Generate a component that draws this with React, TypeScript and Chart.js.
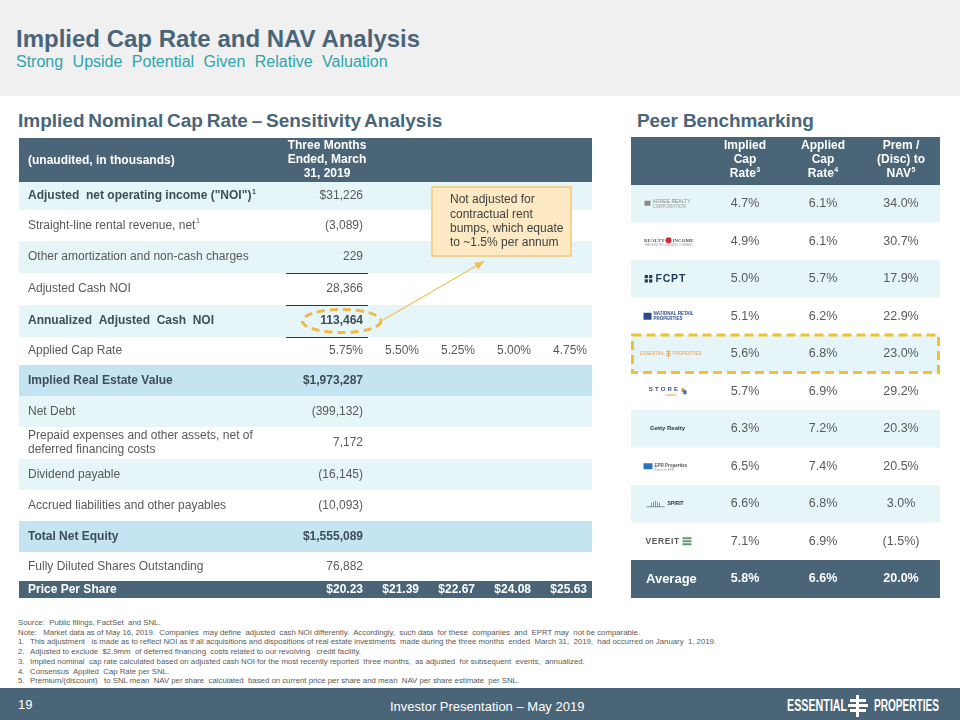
import React, { useEffect, useRef } from "react";
import { Chart, registerables } from "chart.js";

Chart.register(...registerables);

// ---------------- data ----------------
const sensColumnTitle = ["Three Months", "Ended, March", "31, 2019"];
const sensRowLabels = [
  'Adjusted  net operating income ("NOI")',
  "Straight-line rental revenue, net",
  "Other amortization and non-cash charges",
  "Adjusted Cash NOI",
  "Annualized  Adjusted  Cash  NOI",
  "Applied Cap Rate",
  "Implied Real Estate Value",
  "Net Debt",
  "Prepaid expenses and other assets, net of\ndeferred financing costs",
  "Dividend payable",
  "Accrued liabilities and other payables",
  "Total Net Equity",
  "Fully Diluted Shares Outstanding",
  "Price Per Share",
];
const sensRowNotes = ["1", "1", "", "", "", "", "", "", "", "", "", "", "", ""];
const sensBaseValues = [
  "$31,226", "(3,089)", "229", "28,366", "113,464", "5.75%", "$1,973,287",
  "(399,132)", "7,172", "(16,145)", "(10,093)", "$1,555,089", "76,882", "$20.23",
];
const sensAltCapRates = ["5.50%", "5.25%", "5.00%", "4.75%"];
const sensAltPrices = ["$21.39", "$22.67", "$24.08", "$25.63"];
const calloutLines = ["Not adjusted for", "contractual rent", "bumps, which equate", "to ~1.5% per annum"];

const peerNames = [
  "Agree Realty", "Realty Income", "FCPT", "National Retail Properties", "Essential Properties",
  "STORE Capital", "Getty Realty", "EPR Properties", "Spirit Realty", "VEREIT",
];
const peerImpliedCap = [4.7, 4.9, 5.0, 5.1, 5.6, 5.7, 6.3, 6.5, 6.6, 7.1];
const peerAppliedCap = [6.1, 6.1, 5.7, 6.2, 6.8, 6.9, 7.2, 7.4, 6.8, 6.9];
const peerPremDisc = [34.0, 30.7, 17.9, 22.9, 23.0, 29.2, 20.3, 20.5, 3.0, -1.5];
const peerAverage = [5.8, 6.6, 20.0];
const peerColumnTitles = [["Implied", "Cap", "Rate"], ["Applied", "Cap", "Rate"], ["Prem /", "(Disc) to", "NAV"]];
const peerColumnNotes = ["3", "4", "5"];

const footnotes = [
  ["", "Source:  Public filings, FactSet  and SNL."],
  ["", "Note:   Market data as of May 16, 2019.  Companies  may define  adjusted  cash NOI differently.  Accordingly,  such data  for these  companies  and  EPRT may  not be comparable."],
  ["1.", "This adjustment   is made as to reflect NOI as if all acquisitions and dispositions of real estate investments  made during the three months  ended  March 31,  2019,  had occurred on January  1, 2019."],
  ["2.", "Adjusted to exclude  $2.9mm  of deferred financing  costs related to our revolving   credit facility."],
  ["3.", "Implied nominal  cap rate calculated based on adjusted cash NOI for the most recently reported  three months,  as adjusted  for subsequent  events,  annualized."],
  ["4.", "Consensus  Applied  Cap Rate per SNL."],
  ["5.", "Premium/(discount)   to SNL mean  NAV per share  calculated  based on current price per share and mean  NAV per share estimate  per SNL."],
];

// ---------------- styles / layout ----------------
const FONT = "'Liberation Sans', Arial, Helvetica, sans-serif";
const SLATE = "#4a6577";
const TEAL_ROW = "#e6f5f7";
const BLUE_ROW = "#c4e4f2";
const TEXT = "#595959";
const TEXT_BOLD = "#3e4d57";

const sensColUnits = [267, 82, 56, 56, 56, 56];
const sensRowUnits = [44, 28, 31, 32, 32, 32, 28, 31, 31, 32, 31, 31, 31, 29, 17];
const sensRowKinds = ["tealB", "white", "teal", "white", "tealB", "white", "blueB", "teal", "white", "teal", "white", "blueB", "white", "dark"];
const sensValueBold = [false, false, false, false, true, false, true, false, false, false, false, true, false, true];
const sensCapRow = 5;
const sensPriceRow = 13;
const sensRuleRows = [3, 4, 5];
const sensCircleRow = 4;

const peerColUnits = [75, 78, 78, 78];
const peerRowUnits = [48, 37.5, 37.5, 37.5, 37.5, 37.5, 37.5, 37.5, 37.5, 37.5, 37.5, 38];
const peerHighlight = 4;

type Rect = { x0: number; x1: number; y0: number; y1: number };
type CellFn = (c0: number, r: number, c1?: number) => Rect;

const cum = (a: number[]) => a.reduce((acc, v) => { acc.push(acc[acc.length - 1] + v); return acc; }, [0] as number[]);
const mid = (r: Rect) => (r.y0 + r.y1) / 2;
const cx = (r: Rect) => (r.x0 + r.x1) / 2;
const fill = (ctx: CanvasRenderingContext2D, r: Rect, color: string) => {
  ctx.fillStyle = color;
  ctx.fillRect(r.x0, r.y0, r.x1 - r.x0, r.y1 - r.y0);
};
const txt = (ctx: CanvasRenderingContext2D, s: string, x: number, y: number, font: string, color: string, align: CanvasTextAlign = "left", ls = 0) => {
  ctx.font = font;
  (ctx as any).letterSpacing = ls + "px";
  ctx.fillStyle = color;
  ctx.textAlign = align;
  ctx.textBaseline = "middle";
  ctx.fillText(s, x, y);
  (ctx as any).letterSpacing = "0px";
};
const withSup = (ctx: CanvasRenderingContext2D, s: string, sup: string, x: number, y: number, size: number, bold: boolean, color: string, align: "left" | "center" | "right") => {
  const f = `${bold ? "bold " : ""}${size}px ${FONT}`;
  const sf = `${bold ? "bold " : ""}${Math.round(size * 0.6)}px ${FONT}`;
  ctx.font = f;
  const w = ctx.measureText(s).width;
  ctx.font = sf;
  const sw = sup ? ctx.measureText(sup).width + 0.5 : 0;
  const start = align === "center" ? x - (w + sw) / 2 : align === "right" ? x - w - sw : x;
  txt(ctx, s, start, y, f, color);
  if (sup) txt(ctx, sup, start + w + 0.5, y - size * 0.35, sf, color);
};

const fmtPct = (v: number) => (v < 0 ? `(${Math.abs(v).toFixed(1)}%)` : `${v.toFixed(1)}%`);

// ---------------- table drawers ----------------
function drawSensitivity(ctx: CanvasRenderingContext2D, cell: CellFn) {
  const hdr = cell(0, 0, 5);
  fill(ctx, hdr, SLATE);
  txt(ctx, "(unaudited, in thousands)", hdr.x0 + 9, mid(hdr) + 1, `bold 12px ${FONT}`, "#fff");
  const h1 = cell(1, 0);
  sensColumnTitle.forEach((line, i) =>
    txt(ctx, line, cx(h1), mid(hdr) + (i - 1) * 14, `bold 12px ${FONT}`, "#fff", "center")
  );

  sensRowLabels.forEach((label, i) => {
    const r = i + 1;
    const kind = sensRowKinds[i];
    const row = cell(0, r, 5);
    if (kind.startsWith("teal")) fill(ctx, row, TEAL_ROW);
    if (kind.startsWith("blue")) fill(ctx, row, BLUE_ROW);
    if (kind === "dark") fill(ctx, row, SLATE);
    const bold = kind.endsWith("B") || kind === "dark";
    const color = kind === "dark" ? "#fff" : bold ? TEXT_BOLD : TEXT;
    const lines = label.split("\n");
    lines.forEach((ln, k) => {
      const y = mid(row) + (k - (lines.length - 1) / 2) * 14;
      withSup(ctx, ln, k === 0 ? sensRowNotes[i] : "", row.x0 + 9, y, 12, bold, color, "left");
    });
    const c1 = cell(1, r);
    const vb = sensValueBold[i];
    const vcolor = kind === "dark" ? "#fff" : vb ? TEXT_BOLD : TEXT;
    txt(ctx, sensBaseValues[i], c1.x1 - 5, mid(row), `${vb ? "bold " : ""}12px ${FONT}`, vcolor, "right");
    if (i === sensCapRow)
      sensAltCapRates.forEach((v, k) => {
        const c = cell(k + 2, r);
        txt(ctx, v, c.x1 - 5, mid(row), `12px ${FONT}`, vcolor, "right");
      });
    if (i === sensPriceRow)
      sensAltPrices.forEach((v, k) => {
        const c = cell(k + 2, r);
        txt(ctx, v, c.x1 - 5, mid(row), `bold 12px ${FONT}`, vcolor, "right");
      });
  });

  // subtotal rules
  ctx.strokeStyle = "#333";
  ctx.lineWidth = 1;
  sensRuleRows.forEach((i) => {
    const c = cell(1, i + 1);
    ctx.beginPath();
    ctx.moveTo(c.x0, Math.round(c.y0) + 0.5);
    ctx.lineTo(c.x1, Math.round(c.y0) + 0.5);
    ctx.stroke();
  });

  // callout box
  const b0 = cell(3, 1), b1 = cell(5, 3);
  const box = { x0: b0.x0 + 8, x1: b1.x1 - 21, y0: b0.y0 + 5, y1: b1.y1 - 17 };
  fill(ctx, box, "#fdeac5");
  ctx.strokeStyle = "#f3c878";
  ctx.lineWidth = 1.5;
  ctx.strokeRect(box.x0, box.y0, box.x1 - box.x0, box.y1 - box.y0);
  calloutLines.forEach((ln, k) =>
    txt(ctx, ln, box.x0 + 18, box.y0 + 13 + k * 14.3, `12px ${FONT}`, "#404040")
  );

  // dashed ellipse around annualized NOI
  const cr = cell(1, sensCircleRow + 1);
  ctx.font = `bold 12px ${FONT}`;
  const tw = ctx.measureText(sensBaseValues[sensCircleRow]).width;
  const ecx = cr.x1 - 5 - tw / 2;
  const ecy = mid(cr);
  const rx = tw / 2 + 18, ry = 11.5;
  ctx.save();
  ctx.strokeStyle = "#f0b94a";
  ctx.lineWidth = 3;
  ctx.setLineDash([8, 5]);
  ctx.beginPath();
  ctx.ellipse(ecx, ecy, rx, ry, 0, 0, Math.PI * 2);
  ctx.stroke();
  ctx.restore();

  // arrow
  const ax0 = ecx + rx + 2, ay0 = ecy - 1;
  const ax1 = box.x0 + 51, ay1 = box.y1 + 6;
  ctx.save();
  ctx.strokeStyle = "#f2c15c";
  ctx.fillStyle = "#f2c15c";
  ctx.lineWidth = 1.3;
  ctx.beginPath();
  ctx.moveTo(ax0, ay0);
  ctx.lineTo(ax1, ay1);
  ctx.stroke();
  const ang = Math.atan2(ay1 - ay0, ax1 - ax0);
  ctx.beginPath();
  ctx.moveTo(ax1 + Math.cos(ang) * 2, ay1 + Math.sin(ang) * 2);
  ctx.lineTo(ax1 - Math.cos(ang - 0.45) * 9, ay1 - Math.sin(ang - 0.45) * 9);
  ctx.lineTo(ax1 - Math.cos(ang + 0.45) * 9, ay1 - Math.sin(ang + 0.45) * 9);
  ctx.closePath();
  ctx.fill();
  ctx.restore();
}

function drawLogo(ctx: CanvasRenderingContext2D, i: number, x: number, y: number) {
  switch (i) {
    case 0:
      ctx.fillStyle = "#8a8a8a";
      ctx.fillRect(x - 24, y - 3, 6, 5);
      txt(ctx, "AGREE REALTY", x - 16, y - 2, `5px ${FONT}`, "#888");
      txt(ctx, "CORPORATION", x - 16, y + 3, `4.5px ${FONT}`, "#999");
      break;
    case 1:
      txt(ctx, "REALTY", x - 4, y - 1, `bold 5px serif`, "#555", "right");
      ctx.fillStyle = "#d42a30";
      ctx.beginPath(); ctx.arc(x, y - 1, 3, 0, Math.PI * 2); ctx.fill();
      txt(ctx, "INCOME", x + 4, y - 1, `bold 5px serif`, "#555", "left");
      txt(ctx, "THE MONTHLY DIVIDEND COMPANY", x, y + 4, `2.8px ${FONT}`, "#999", "center");
      break;
    case 2: {
      ctx.fillStyle = "#1f3a5a";
      const s = 3.2;
      [[-1, -1], [1, -1], [-1, 1], [1, 1]].forEach(([a, b]) => ctx.fillRect(x - 20 + a * 2.2 - s / 2, y + b * 2.2 - s / 2, s, s));
      txt(ctx, "FCPT", x - 13, y + 0.5, `bold 10.5px ${FONT}`, "#1f3a5a", "left", 0.8);
      break;
    }
    case 3:
      ctx.fillStyle = "#2a4d8a";
      ctx.fillRect(x - 25, y - 3.5, 8, 7);
      txt(ctx, "NATIONAL RETAIL", x - 15, y - 2, `bold 4.5px ${FONT}`, "#2a4d8a");
      txt(ctx, "PROPERTIES", x - 15, y + 2.5, `bold 4.5px ${FONT}`, "#2a4d8a");
      break;
    case 4:
      txt(ctx, "ESSENTIAL", x - 4, y, `4.5px ${FONT}`, "#e8a158", "right");
      ctx.fillStyle = "#e8a158";
      ctx.fillRect(x - 0.5, y - 3.5, 1, 7);
      [-2, 0, 2].forEach((d) => ctx.fillRect(x - 2.5, y + d - 0.4, 5, 0.8));
      txt(ctx, "PROPERTIES", x + 4, y, `4.5px ${FONT}`, "#e8a158", "left");
      break;
    case 5:
      txt(ctx, "STORE", x - 4, y - 1.5, `bold 6px ${FONT}`, "#2f4f8f", "center", 2.2);
      txt(ctx, "capital", x + 2, y + 3.5, `4px ${FONT}`, "#e38a3a", "center");
      ctx.fillStyle = "#e38a3a";
      ctx.fillRect(x + 13, y - 3, 3, 4);
      ctx.fillStyle = "#2f6fb0";
      ctx.fillRect(x + 15, y - 1, 3, 4);
      break;
    case 6:
      txt(ctx, "Getty Realty", x - 1, y, `bold 6px ${FONT}`, "#2c3a44", "center");
      break;
    case 7:
      ctx.fillStyle = "#2a76bd";
      ctx.fillRect(x - 25, y - 3, 9, 6);
      txt(ctx, "EPR Properties", x - 14, y - 0.5, `bold 4.5px ${FONT}`, "#555");
      txt(ctx, "Return to EPR", x - 14, y + 3.5, `3px ${FONT}`, "#999");
      break;
    case 8:
      ctx.strokeStyle = "#777";
      ctx.lineWidth = 0.8;
      for (let k = 0; k < 5; k++) {
        ctx.beginPath();
        ctx.moveTo(x - 17 + k * 2, y + 3);
        ctx.lineTo(x - 17 + k * 2, y - 3 + Math.abs(k - 2));
        ctx.stroke();
      }
      ctx.beginPath(); ctx.moveTo(x - 22, y + 3); ctx.lineTo(x - 4, y + 3); ctx.stroke();
      txt(ctx, "SPIRIT", x - 1, y, `bold 5px ${FONT}`, "#333");
      break;
    case 9:
      txt(ctx, "VEREIT", x - 23, y, `bold 8.5px ${FONT}`, "#5a5a5a", "left", 0.6);
      ctx.fillStyle = "#5d9a70";
      for (let k = 0; k < 3; k++) ctx.fillRect(x + 14, y - 4 + k * 3, 9, 2);
      break;
  }
}

function drawPeers(ctx: CanvasRenderingContext2D, cell: CellFn) {
  const hdr = cell(0, 0, 3);
  fill(ctx, hdr, SLATE);
  peerColumnTitles.forEach((lines, c) => {
    const cc = cell(c + 1, 0);
    lines.forEach((ln, k) =>
      withSup(ctx, ln, k === 2 ? peerColumnNotes[c] : "", cx(cc), mid(hdr) - 1 + (k - 1) * 14, 12, true, "#fff", "center")
    );
  });
  peerNames.forEach((_, i) => {
    const r = i + 1;
    const row = cell(0, r, 3);
    if (i % 2 === 0) fill(ctx, row, TEAL_ROW);
    drawLogo(ctx, i, cx(cell(0, r)), mid(row));
    [peerImpliedCap[i], peerAppliedCap[i], peerPremDisc[i]].forEach((v, c) =>
      txt(ctx, fmtPct(v), cx(cell(c + 1, r)), mid(row), `12.5px ${FONT}`, TEXT, "center")
    );
  });
  const ar = peerNames.length + 1;
  const avg = cell(0, ar, 3);
  fill(ctx, avg, SLATE);
  txt(ctx, "Average", avg.x0 + 15, mid(avg), `bold 13px ${FONT}`, "#fff");
  peerAverage.forEach((v, c) =>
    txt(ctx, fmtPct(v), cx(cell(c + 1, ar)), mid(avg), `bold 12.5px ${FONT}`, "#fff", "center")
  );
  const hl = cell(0, peerHighlight + 1, 3);
  ctx.save();
  ctx.strokeStyle = "#f0c22c";
  ctx.lineWidth = 3;
  ctx.setLineDash([9, 5]);
  ctx.strokeRect(hl.x0 + 1.5, hl.y0, hl.x1 - hl.x0 - 3, hl.y1 - hl.y0);
  ctx.restore();
}

// ---------------- chart-backed table ----------------
function TableChart(props: {
  left: number; top: number; colUnits: number[]; rowUnits: number[];
  draw: (ctx: CanvasRenderingContext2D, cell: CellFn) => void;
}) {
  const ref = useRef<HTMLCanvasElement>(null);
  const colEdges = cum(props.colUnits);
  const rowEdges = cum(props.rowUnits);
  const width = colEdges[colEdges.length - 1];
  const height = Math.round(rowEdges[rowEdges.length - 1]);
  useEffect(() => {
    const chart = new Chart(ref.current!, {
      type: "scatter",
      data: { datasets: [] },
      options: {
        animation: false,
        responsive: false,
        maintainAspectRatio: false,
        devicePixelRatio: 1,
        events: [],
        layout: { padding: 0 },
        plugins: { legend: { display: false }, tooltip: { enabled: false }, title: { display: false } },
        scales: {
          x: { type: "linear", min: 0, max: colEdges[colEdges.length - 1], display: false },
          y: { type: "linear", min: 0, max: rowEdges[rowEdges.length - 1], reverse: true, display: false },
        },
      },
      plugins: [
        {
          id: "tableCells",
          afterDraw(c: any) {
            const xs = c.scales.x, ys = c.scales.y;
            const cell: CellFn = (c0, r, c1 = c0) => ({
              x0: xs.getPixelForValue(colEdges[c0]),
              x1: xs.getPixelForValue(colEdges[c1 + 1]),
              y0: ys.getPixelForValue(rowEdges[r]),
              y1: ys.getPixelForValue(rowEdges[r + 1]),
            });
            c.ctx.save();
            props.draw(c.ctx, cell);
            c.ctx.restore();
          },
        },
      ],
    } as any);
    return () => chart.destroy();
  }, []);
  return (
    <canvas
      ref={ref}
      width={width}
      height={height}
      style={{ position: "absolute", left: props.left, top: props.top, width, height }}
    />
  );
}

export default function App() {
  const abs = (s: React.CSSProperties): React.CSSProperties => ({ position: "absolute", ...s });
  return (
    <div style={abs({ left: 0, top: 0, width: 960, height: 720, background: "#fff", overflow: "hidden", fontFamily: FONT })}>
      <div style={abs({ left: 0, top: 0, width: 960, height: 96, background: "#f0f0f0" })} />
      <div style={abs({ left: 16, top: 27, fontSize: 24, lineHeight: "24px", fontWeight: "bold", color: SLATE, whiteSpace: "nowrap" })}>
        Implied Cap Rate and NAV Analysis
      </div>
      <div style={abs({ left: 16, top: 54, fontSize: 16, lineHeight: "16px", color: "#2fa4aa", wordSpacing: 5, whiteSpace: "nowrap" })}>
        Strong Upside Potential Given Relative Valuation
      </div>
      <div style={abs({ left: 18, top: 111, fontSize: 19, lineHeight: "20px", fontWeight: "bold", color: SLATE, whiteSpace: "nowrap", wordSpacing: -1.5 })}>
        Implied Nominal Cap Rate – Sensitivity Analysis
      </div>
      <div style={abs({ left: 637, top: 111, fontSize: 19, lineHeight: "20px", fontWeight: "bold", color: SLATE, whiteSpace: "nowrap", letterSpacing: -0.1 })}>
        Peer Benchmarking
      </div>

      <TableChart left={19} top={138} colUnits={sensColUnits} rowUnits={sensRowUnits} draw={drawSensitivity} />
      <TableChart left={631} top={137} colUnits={peerColUnits} rowUnits={peerRowUnits} draw={drawPeers} />

      <div style={abs({ left: 18, top: 618, fontSize: 7.8, lineHeight: "9.7px", color: "#595959", whiteSpace: "pre" })}>
        {footnotes.map(([n, t], k) => (
          <div key={k} style={{ display: "flex" }}>
            {n ? <span style={{ width: 12, display: "inline-block" }}>{n}</span> : null}
            <span>{t}</span>
          </div>
        ))}
      </div>

      <div style={abs({ left: 0, top: 688, width: 960, height: 32, background: SLATE })} />
      <div style={abs({ left: 18, top: 697, fontSize: 13, lineHeight: "16px", color: "#fff" })}>19</div>
      <div style={abs({ left: 390, top: 699, fontSize: 13, lineHeight: "16px", color: "#fff", whiteSpace: "nowrap" })}>
        Investor Presentation – May 2019
      </div>
      <div style={abs({ left: 787, top: 698, fontSize: 16, lineHeight: "16px", fontWeight: "bold", color: "#fff", transform: "scaleX(0.67)", transformOrigin: "left", whiteSpace: "nowrap" })}>
        ESSENTIAL
      </div>
      <div style={abs({ left: 856, top: 695, width: 3, height: 22, background: "#fff" })} />
      {[0, 1, 2].map((k) => (
        <div key={k} style={abs({ left: 848 + (k === 1 ? 0 : 2), top: 699 + k * 5, width: k === 1 ? 20 : 16, height: 3, background: "#fff" })} />
      ))}
      <div style={abs({ left: 874, top: 698, fontSize: 16, lineHeight: "16px", fontWeight: "bold", color: "#fff", transform: "scaleX(0.63)", transformOrigin: "left", whiteSpace: "nowrap" })}>
        PROPERTIES
      </div>
    </div>
  );
}
